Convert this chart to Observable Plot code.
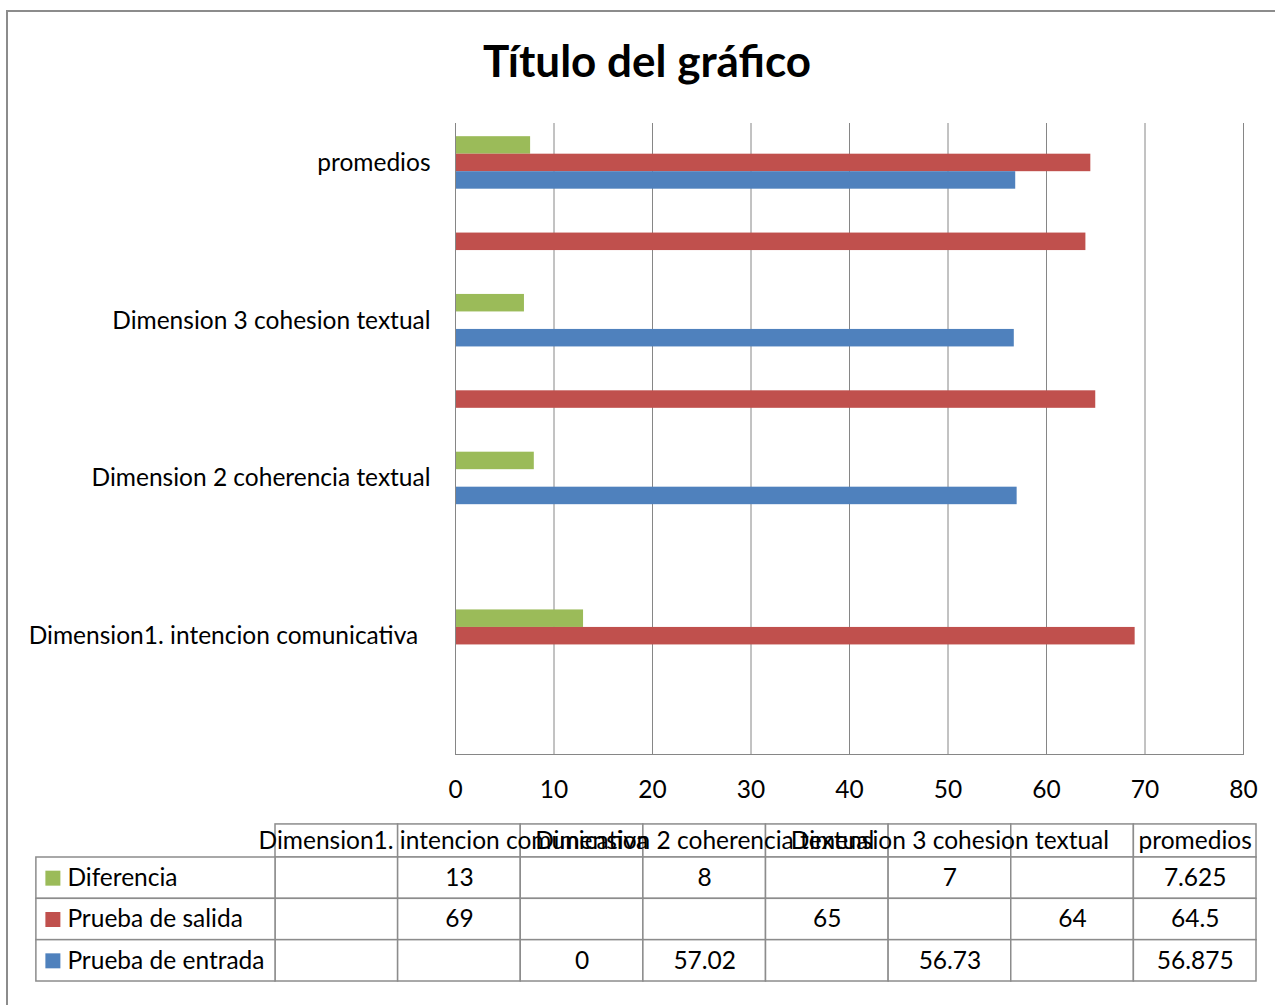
<!DOCTYPE html>
<html><head><meta charset="utf-8">
<script src="https://cdn.jsdelivr.net/npm/d3@7"></script>
<script src="https://cdn.jsdelivr.net/npm/@observablehq/plot@0.6"></script>
<style>
html,body{margin:0;padding:0;background:#fff;}
#wrap{position:relative;width:1275px;height:1005px;overflow:hidden;font-family:Lato,sans-serif;}
#wrap svg{position:absolute;left:0;}
#title{position:absolute;left:0;width:1294px;top:38px;text-align:center;font:bold 44px Lato,sans-serif;color:#000;line-height:1;}
#border{position:absolute;left:6px;top:10px;width:1400px;height:1100px;border-left:2px solid #8c8c8c;border-top:2px solid #8c8c8c;pointer-events:none;}
</style>
</head><body>
<div id="wrap"></div>
<script>
// ---- data ----
const titleText = "Título del gráfico";
const categories = ["", "Dimension1. intencion comunicativa\u2002", "", "Dimension 2 coherencia textual", "", "Dimension 3 cohesion textual", "", "promedios"];
const series = ["Diferencia", "Prueba de salida", "Prueba de entrada"];
const diferencia     = [null, 13, null, 8, null, 7, null, 7.625];
const pruebaSalida   = [null, 69, null, null, 65, null, 64, 64.5];
const pruebaEntrada  = [null, null, 0, 57.02, null, 56.73, null, 56.875];
const xTicks = [0, 10, 20, 30, 40, 50, 60, 70, 80];
const colors = ["#9BBB59", "#C0504D", "#4F81BD"];

const seriesValues = [diferencia, pruebaSalida, pruebaEntrada];
const gray = "#868686";
const FS = 24.5;
const wrap = document.getElementById("wrap");

// ---- main chart ----
const H = 815, MT = 123, MB = 61;
const band = (H - MT - MB) / categories.length;
const barH = 17.5;
const inset = (band - barH) / 2;

const barMarks = series.map((s, k) => {
  const data = seriesValues[k].map((v, c) => ({cat: c, series: s, value: v})).filter(d => d.value !== null);
  return Plot.barX(data, {y: "cat", x: "value", fill: "series", insetTop: inset, insetBottom: inset, dy: (k - 1) * barH});
});

const chart = Plot.plot({
  width: 1275, height: H,
  marginTop: MT, marginBottom: MB, marginLeft: 455, marginRight: 32,
  style: {background: "transparent", color: "#000", fontFamily: "Lato, sans-serif"},
  x: {domain: [0, 80]},
  y: {domain: d3.range(categories.length - 1, -1, -1), padding: 0, round: false},
  color: {domain: series, range: colors},
  marks: [
    Plot.gridX(xTicks.slice(1), {stroke: gray, strokeOpacity: 1}),
    ...barMarks,
    Plot.ruleX([0], {stroke: gray}),
    Plot.frame({anchor: "bottom", stroke: gray}),
    Plot.axisX({ticks: xTicks, tickSize: 0, tickPadding: 26, fontSize: FS, label: null}),
    Plot.axisY({tickSize: 0, tickPadding: 25, fontSize: FS, label: null, tickFormat: i => categories[i]})
  ]
});
chart.style.top = "0px";
wrap.appendChild(chart);

// ---- data table ----
const legendCols = 1.95;   // legend column width in table-column units
const headerH = 0.8;       // header row height in body-row units
const bodyCells = [];
series.forEach((s, r) => categories.forEach((c, i) => bodyCells.push({r, i, v: seriesValues[r][i]})));
const catIdx = categories.map((c, i) => i);

const table = Plot.plot({
  width: 1275, height: 185,
  marginTop: 42, marginBottom: 19, marginLeft: 275, marginRight: 19,
  style: {background: "transparent", color: "#000", fontFamily: "Lato, sans-serif"},
  x: {domain: [0, categories.length], axis: null},
  y: {domain: [0, series.length], reverse: true, axis: null},
  color: {domain: series, range: colors},
  marks: [
    Plot.rect(catIdx, {x1: i => i, x2: i => i + 1, y1: () => -headerH, y2: () => 0, fill: "white", stroke: "#8c8c8c", strokeWidth: 1.5}),
    Plot.rect(bodyCells, {x1: d => d.i, x2: d => d.i + 1, y1: d => d.r, y2: d => d.r + 1, fill: "white", stroke: "#8c8c8c", strokeWidth: 1.5}),
    Plot.rect(series, {x1: () => -legendCols, x2: () => 0, y1: (d, i) => i, y2: (d, i) => i + 1, fill: "white", stroke: "#8c8c8c", strokeWidth: 1.5}),
    Plot.text(catIdx.filter(i => categories[i] !== ""), {x: i => i + 0.5, y: () => -headerH / 2, text: i => categories[i], fontSize: FS}),
    Plot.text(bodyCells.filter(d => d.v !== null), {x: d => d.i + 0.5, y: d => d.r + 0.5, text: d => String(d.v), fontSize: FS}),
    Plot.dot(series, {x: () => -legendCols, y: (d, i) => i + 0.5, symbol: "square", r: 8.46, fill: d => d, dx: 16.5}),
    Plot.text(series, {x: () => -legendCols, y: (d, i) => i + 0.5, text: d => d, textAnchor: "start", dx: 31, fontSize: FS})
  ]
});
table.style.top = "815px";
wrap.appendChild(table);

const t = document.createElement("div");
t.id = "title"; t.textContent = titleText;
wrap.appendChild(t);
const b = document.createElement("div");
b.id = "border";
wrap.appendChild(b);
</script>
</body></html>
